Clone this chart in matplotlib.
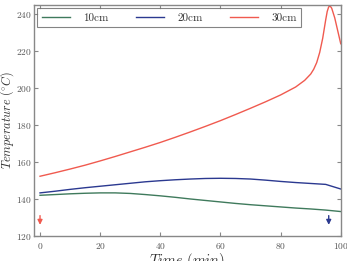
import matplotlib
matplotlib.use("Agg")
import matplotlib.pyplot as plt
import numpy as np

plt.rcParams['font.family'] = ['cmr10']
plt.rcParams['mathtext.fontset'] = 'cm'
plt.rcParams['axes.formatter.use_mathtext'] = True

t_10 = [0, 5, 10, 15, 20, 25, 30, 35, 40, 45, 50, 55, 60, 65, 70, 75, 80, 85, 90, 95, 100]
v_10 = [142.0, 142.4, 142.8, 143.1, 143.3, 143.3, 143.0, 142.4, 141.7, 140.9, 140.0, 139.2, 138.4, 137.6, 136.9, 136.3, 135.7, 135.1, 134.6, 134.0, 133.2]

t_20 = [0, 5, 10, 15, 20, 25, 30, 35, 40, 45, 50, 55, 60, 65, 70, 75, 80, 85, 90, 95, 100]
v_20 = [143.3, 144.2, 145.2, 146.1, 146.9, 147.7, 148.5, 149.3, 149.9, 150.4, 150.8, 151.1, 151.2, 151.1, 150.8, 150.2, 149.5, 148.9, 148.4, 147.9, 145.4]

t_30 = [0, 5, 10, 15, 20, 25, 30, 35, 40, 45, 50, 55, 60, 65, 70, 75, 80, 85, 88, 90, 91, 92, 93, 94, 95, 95.5, 96, 96.5, 97, 98, 99, 100]
v_30 = [152.3, 154.2, 156.2, 158.3, 160.6, 163.0, 165.5, 168.0, 170.6, 173.4, 176.3, 179.3, 182.4, 185.7, 189.1, 192.6, 196.3, 200.6, 204.2, 207.6, 210.2, 213.8, 219.3, 227.0, 237.0, 241.5, 244.0, 244.4, 243.2, 238.0, 231.0, 224.0]

labels = ['10cm', '20cm', '30cm']
colors = ['#3f7a5c', '#2b3990', '#f05a4f']

arrow_x = [0, 96]
arrow_top = [132.5, 132.5]
arrow_tip = [124.5, 124.5]
arrow_colors = ['#f05a4f', '#2b3990']

fig = plt.figure(figsize=(3.47, 2.61), dpi=100)
ax = fig.add_axes([0.098, 0.096, 0.884, 0.885])

for t, v, lab, c in zip([t_10, t_20, t_30], [v_10, v_20, v_30], labels, colors):
    ax.plot(t, v, color=c, lw=1.0, label=lab)

for x, y0, y1, c in zip(arrow_x, arrow_top, arrow_tip, arrow_colors):
    ax.annotate('', xy=(x, y1), xytext=(x, y0),
                arrowprops=dict(arrowstyle='-|>', color=c, lw=1.0, mutation_scale=7))

ax.set_xlim(-2, 100)
ax.set_ylim(120, 245)
ax.set_xticks([0, 20, 40, 60, 80, 100])
ax.set_yticks([120, 140, 160, 180, 200, 220, 240])
ax.tick_params(direction='in', top=True, right=True, labelsize=6.8, colors='#888888',
               labelcolor='#555555', length=3, width=0.8)
ax.tick_params(axis='y', pad=1.5)
for s in ax.spines.values():
    s.set_color('#888888')
    s.set_linewidth(1.0)

ax.set_xlabel(r'$Time\ (min)$', fontsize=10.5, color='#333333', labelpad=0)
ax.set_ylabel(r'$Temperature\ (^{\circ}C)$', fontsize=8.8, color='#333333')
ax.yaxis.set_label_coords(-0.058, 0.5)

leg = ax.legend(loc='upper left', ncol=3, fontsize=8, frameon=True, fancybox=False,
                edgecolor='#666666', handlelength=2.5, columnspacing=2.5,
                borderaxespad=0.3, handletextpad=1.2)
leg.get_frame().set_linewidth(0.8)
for txt in leg.get_texts():
    txt.set_color('#333333')

fig.savefig('out.png', dpi=100)
